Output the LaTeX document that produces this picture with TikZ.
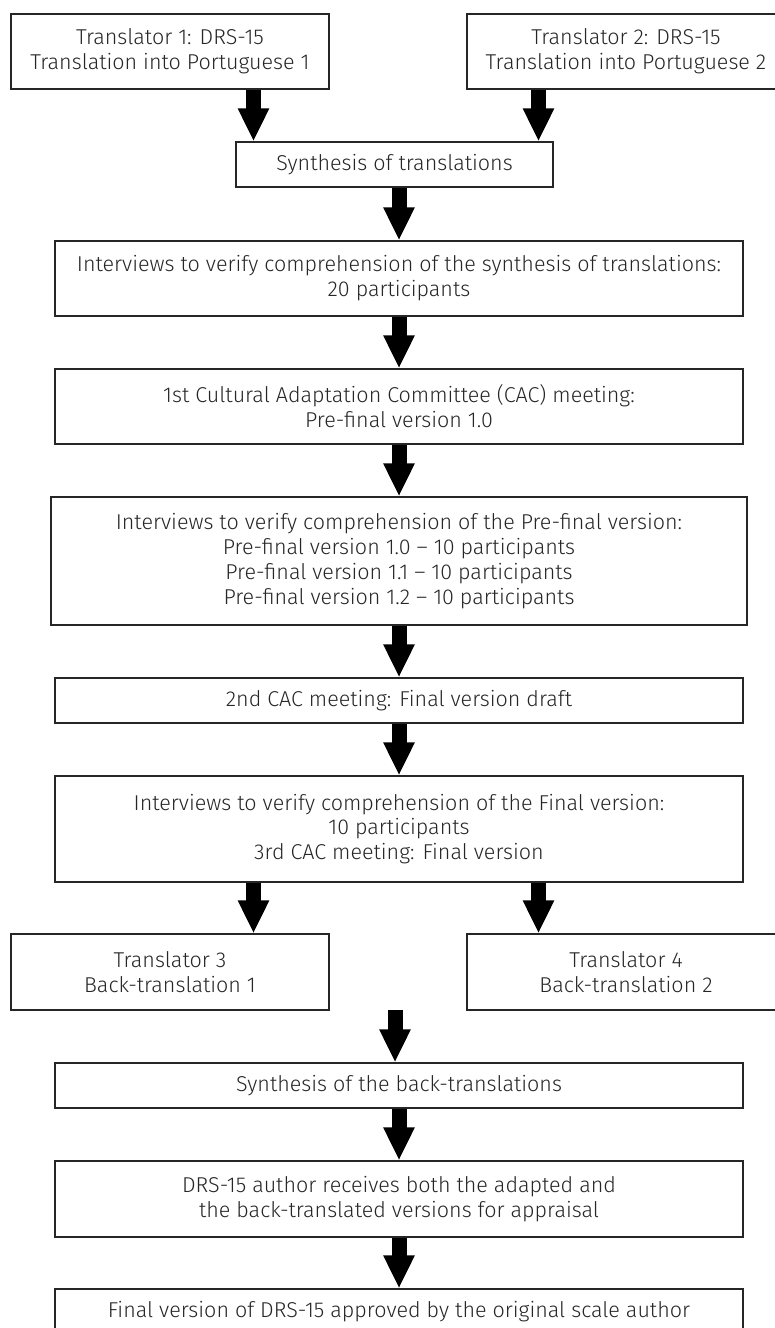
\documentclass[tikz,border=0pt]{standalone}
\usepackage{fontspec}
\setmainfont{Fira Sans Light}
\usetikzlibrary{arrows.meta}

\begin{document}
\begin{tikzpicture}[x=1pt, y=-1pt,
    stage/.style={draw=black!85, line width=1.1pt, align=center, inner sep=0pt,
        font=\fontsize{21.5}{24.8}\selectfont, text=black!85, minimum height=45pt},
    wide/.style={stage, minimum width=688pt},
    half/.style={stage, minimum width=318pt},
    fat/.style={line width=15pt, -{Triangle[length=33pt, width=29pt]}}]
    \useasboundingbox (0,0) rectangle (775,1328);

    \def\lx{253.5}
    \def\rx{538.5}
    \def\mx{399}

    % forward translation
    \node[half, minimum height=75pt] (tr1) at (170,51.5) {Translator 1: DRS-15\\Translation into Portuguese 1};
    \node[half, minimum height=75pt] (tr2) at (626,51.5) {Translator 2: DRS-15\\Translation into Portuguese 2};
    \node[stage, minimum width=317pt] (synth) at (394.5,164.5) {Synthesis of translations};

    % interviews and committee
    \node[wide, minimum height=75pt] (int1) at (\mx,278.5) {Interviews to verify comprehension of the synthesis of translations:\\20 participants};
    \node[wide, minimum height=75pt] (cac1) at (\mx,406.5) {1st Cultural Adaptation Committee (CAC) meeting:\\Pre-final version 1.0};
    \node[wide, minimum width=696pt, minimum height=128pt] (int2) at (\mx,561) {Interviews to verify comprehension of the Pre-final version:\\Pre-final version 1.0 -- 10 participants\\Pre-final version 1.1 -- 10 participants\\Pre-final version 1.2 -- 10 participants};
    \node[wide] (cac2) at (\mx,700.5) {2nd CAC meeting: Final version draft};
    \node[wide, minimum height=106pt] (int3) at (\mx,829) {Interviews to verify comprehension of the Final version:\\10 participants\\3rd CAC meeting: Final version};

    % back-translation
    \node[half, minimum height=76pt] (tr3) at (170,972) {Translator 3\\Back-translation 1};
    \node[half, minimum height=76pt] (tr4) at (626,972) {Translator 4\\Back-translation 2};
    \coordinate (join) at (395,1010);
    \node[wide] (synthb) at (\mx,1085.5) {Synthesis of the back-translations};
    \node[wide, minimum height=76pt] (author) at (\mx,1199) {DRS-15 author receives both the adapted and\\the back-translated versions for appraisal};
    \node[wide] (final) at (\mx,1311.5) {Final version of DRS-15 approved by the original scale author};

    \draw[fat] (\lx,0 |- tr1.south) -- (\lx,0 |- synth.north);
    \draw[fat] (\rx,0 |- tr2.south) -- (\rx,0 |- synth.north);
    \draw[fat] (\mx,0 |- synth.south) -- (int1.north);
    \draw[fat] (int1) -- (cac1);
    \draw[fat] (cac1) -- (int2);
    \draw[fat] (int2) -- (cac2);
    \draw[fat] (cac2) -- (int3);
    \draw[fat] (\lx,0 |- int3.south) -- (\lx,0 |- tr3.north);
    \draw[fat] (\rx,0 |- int3.south) -- (\rx,0 |- tr4.north);
    \draw[fat] (join) -- (join |- synthb.north);
    \draw[fat] (synthb) -- (author);
    \draw[fat] (author) -- (final);
\end{tikzpicture}
\end{document}
